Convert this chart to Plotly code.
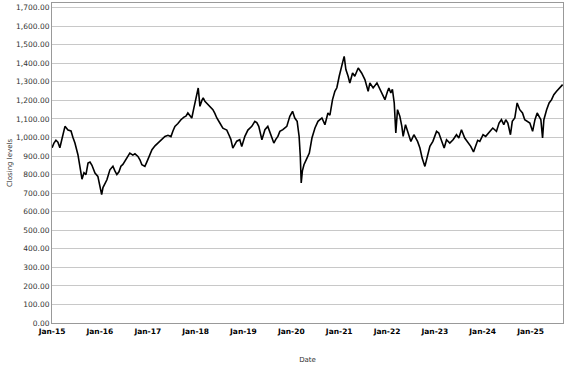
import plotly.graph_objects as go

dates = [
    "2015-01-02", "2015-01-16", "2015-01-31", "2015-02-15", "2015-03-02", "2015-03-18",
    "2015-04-10", "2015-05-03", "2015-05-26", "2015-06-10", "2015-06-25", "2015-07-18",
    "2015-08-02", "2015-08-18", "2015-09-02", "2015-09-17", "2015-10-03", "2015-10-18",
    "2015-11-02", "2015-11-25", "2015-12-17", "2016-01-02", "2016-01-15", "2016-01-25",
    "2016-02-09", "2016-02-24", "2016-03-18", "2016-04-10", "2016-04-25", "2016-05-10",
    "2016-05-26", "2016-06-10", "2016-06-25", "2016-07-10", "2016-07-26", "2016-08-17",
    "2016-09-09", "2016-09-25", "2016-10-18", "2016-11-02", "2016-11-17", "2016-12-10",
    "2016-12-26", "2017-01-10", "2017-02-02", "2017-02-25", "2017-03-20", "2017-04-12",
    "2017-05-12", "2017-06-04", "2017-06-27", "2017-07-12", "2017-07-27", "2017-08-19",
    "2017-09-11", "2017-10-04", "2017-10-19", "2017-11-03", "2017-11-18", "2017-12-03",
    "2017-12-19", "2017-12-26", "2018-01-11", "2018-01-21", "2018-01-26", "2018-02-03",
    "2018-02-18", "2018-02-28", "2018-03-13", "2018-03-28", "2018-04-20", "2018-05-13",
    "2018-05-28", "2018-06-12", "2018-07-05", "2018-07-28", "2018-08-12", "2018-08-27",
    "2018-09-12", "2018-09-27", "2018-10-12", "2018-10-27", "2018-11-11", "2018-12-04",
    "2018-12-19", "2019-01-12", "2019-02-04", "2019-03-06", "2019-03-29", "2019-04-13",
    "2019-04-28", "2019-05-22", "2019-06-14", "2019-07-06", "2019-07-22", "2019-08-06",
    "2019-08-21", "2019-09-05", "2019-09-21", "2019-10-06", "2019-10-29", "2019-11-28",
    "2019-12-21", "2020-01-11", "2020-01-28", "2020-02-15", "2020-03-01", "2020-03-10",
    "2020-03-17", "2020-03-26", "2020-04-07", "2020-04-30", "2020-05-18", "2020-06-07",
    "2020-06-30", "2020-07-23", "2020-08-22", "2020-09-14", "2020-10-07", "2020-10-22",
    "2020-11-11", "2020-11-29", "2020-12-14", "2021-01-01", "2021-01-19", "2021-01-29",
    "2021-02-08", "2021-02-21", "2021-03-10", "2021-03-23", "2021-04-13", "2021-04-30",
    "2021-05-26", "2021-06-21", "2021-07-16", "2021-08-10", "2021-08-23", "2021-09-17",
    "2021-10-16", "2021-11-08", "2021-12-03", "2021-12-16", "2022-01-05", "2022-01-15",
    "2022-01-30", "2022-02-11", "2022-02-25", "2022-03-09", "2022-03-22", "2022-04-09",
    "2022-04-24", "2022-05-04", "2022-05-22", "2022-06-09", "2022-07-02", "2022-07-25",
    "2022-08-22", "2022-09-09", "2022-09-26", "2022-10-17", "2022-11-05", "2022-11-24",
    "2022-12-17", "2023-01-14", "2023-01-31", "2023-02-21", "2023-03-13", "2023-03-31",
    "2023-04-25", "2023-05-20", "2023-06-15", "2023-07-03", "2023-07-23", "2023-08-17",
    "2023-09-12", "2023-10-02", "2023-10-23", "2023-11-09", "2023-11-24", "2023-12-10",
    "2024-01-04", "2024-01-24", "2024-02-24", "2024-03-18", "2024-04-15", "2024-05-05",
    "2024-05-23", "2024-06-10", "2024-06-25", "2024-07-11", "2024-07-31", "2024-08-14",
    "2024-09-02", "2024-09-20", "2024-10-10", "2024-10-31", "2024-11-17", "2024-12-05",
    "2024-12-26", "2025-01-16", "2025-02-03", "2025-02-20", "2025-03-05", "2025-03-20",
    "2025-04-02", "2025-04-12", "2025-05-03", "2025-05-22", "2025-06-10", "2025-06-27",
    "2025-07-18", "2025-08-07", "2025-09-02",
]

closing_levels = [
    945, 970, 985, 975, 945, 1000,
    1060, 1040, 1035, 1000, 970, 907,
    850, 775, 810, 800, 862, 868,
    850, 808, 790, 740, 692, 730,
    755, 772, 826, 845, 820, 800,
    815, 845, 855, 871, 895, 916,
    905, 912, 898, 880, 853, 844,
    870, 895, 934, 955, 970, 990,
    1006, 1012, 1005, 1035, 1060, 1075,
    1096, 1110, 1115, 1132, 1120, 1105,
    1160, 1186, 1230, 1267, 1230, 1168,
    1200, 1213, 1195, 1185, 1168, 1150,
    1130, 1105, 1078, 1050, 1045, 1040,
    1015, 990, 943, 965, 980, 988,
    952, 1006, 1040, 1060, 1087, 1080,
    1060, 988, 1042, 1060, 1030, 1006,
    970, 990, 1006, 1033, 1042, 1060,
    1114, 1141, 1105, 1087, 1006, 900,
    755, 820, 853, 889, 916, 997,
    1051, 1087, 1105, 1069, 1132, 1120,
    1204, 1249, 1268, 1330, 1392, 1410,
    1437, 1366, 1330, 1294, 1348, 1330,
    1375, 1348, 1312, 1249, 1294, 1267,
    1294, 1258, 1222, 1204, 1249, 1267,
    1240, 1260, 1186, 1024, 1150, 1114,
    1060, 1006, 1069, 1025, 979, 1015,
    979, 943, 889, 844, 893, 952,
    979, 1033, 1024, 979, 943, 988,
    970, 988, 1015, 997, 1042, 997,
    970, 952, 922, 960, 985, 979,
    1015, 1006, 1033, 1051, 1033, 1078,
    1096, 1069, 1096, 1078, 1015, 1087,
    1105, 1186, 1150, 1132, 1096, 1087,
    1078, 1033, 1096, 1132, 1114, 1096,
    997, 1096, 1150, 1186, 1204, 1231,
    1249, 1267, 1285,
]

y_ticks = [0, 100, 200, 300, 400, 500, 600, 700, 800, 900, 1000,
           1100, 1200, 1300, 1400, 1500, 1600, 1700]

fig = go.Figure()
fig.add_trace(go.Scatter(
    x=dates, y=closing_levels, mode="lines",
    line=dict(color="#000000", width=1.6),
    showlegend=False,
))

fig.update_layout(
    width=577, height=367,
    margin=dict(l=52, r=14, t=3, b=44),
    paper_bgcolor="white", plot_bgcolor="white",
    font=dict(family="DejaVu Sans", color="#333333"),
    xaxis=dict(
        type="date", automargin=False,
        range=["2015-01-01", "2025-09-05"],
        tick0="2015-01-01", dtick="M12", tickformat="%b-%y",
        tickfont=dict(size=7.5, color="#000000", weight="bold"),
        showgrid=False, zeroline=False,
        showline=True, linecolor="#999999", linewidth=1, mirror=True,
        ticks="", ticklabelstandoff=1,
        title=dict(text="Date", font=dict(size=7, color="#333333"), standoff=22),
    ),
    yaxis=dict(
        automargin=False,
        range=[0, 1725],
        tickvals=y_ticks, tickformat=",.2f",
        tickfont=dict(size=7.5, color="#333333"),
        showgrid=True, gridcolor="#c8c8c8", gridwidth=1,
        zeroline=False,
        showline=True, linecolor="#999999", linewidth=1, mirror=True,
        ticks="",
        title=dict(text="Closing levels", font=dict(size=7, color="#333333"), standoff=2),
    ),
)

fig.write_html(
    "out.html",
    config={"displayModeBar": False},
    post_script="document.body.style.margin='0';document.body.style.overflow='hidden';",
)
